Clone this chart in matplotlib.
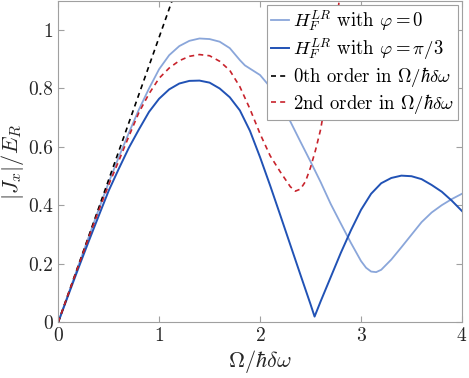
import matplotlib
matplotlib.use('Agg')
import matplotlib.pyplot as plt

plt.rcParams['font.family'] = 'serif'
plt.rcParams['font.serif'] = ['cmr10']
plt.rcParams['mathtext.fontset'] = 'cm'
plt.rcParams['axes.formatter.use_mathtext'] = True

# phi = 0 (light blue)
x_phi0 = [0.0, 0.1, 0.2, 0.3, 0.4, 0.5, 0.6, 0.7, 0.8, 0.9, 1.0, 1.1, 1.2, 1.3, 1.4,
          1.5, 1.6, 1.7, 1.8, 1.85, 1.9, 2.0, 2.1, 2.2, 2.3, 2.4, 2.5, 2.6, 2.7, 2.8,
          2.9, 3.0, 3.05, 3.1, 3.15, 3.2, 3.3, 3.4, 3.5, 3.6, 3.7, 3.8, 3.9, 4.0]
y_phi0 = [0.0, 0.097, 0.194, 0.29, 0.385, 0.478, 0.565, 0.648, 0.728, 0.80, 0.866, 0.914,
          0.945, 0.963, 0.971, 0.969, 0.96, 0.938, 0.897, 0.879, 0.868, 0.846, 0.805, 0.756,
          0.687, 0.618, 0.55, 0.48, 0.405, 0.338, 0.272, 0.21, 0.187, 0.174, 0.172, 0.18,
          0.215, 0.257, 0.30, 0.343, 0.376, 0.401, 0.422, 0.44]

# phi = pi/3 (dark blue)
x_phi3 = [0.0, 0.1, 0.2, 0.3, 0.4, 0.5, 0.6, 0.7, 0.8, 0.9, 1.0, 1.1, 1.2, 1.3, 1.4,
          1.5, 1.6, 1.7, 1.8, 1.9, 2.0, 2.1, 2.2, 2.3, 2.4, 2.5, 2.54, 2.6, 2.7, 2.8,
          2.9, 3.0, 3.1, 3.2, 3.3, 3.4, 3.5, 3.6, 3.7, 3.8, 3.9, 4.0]
y_phi3 = [0.0, 0.093, 0.185, 0.275, 0.363, 0.45, 0.525, 0.597, 0.66, 0.72, 0.765, 0.797,
          0.817, 0.826, 0.827, 0.82, 0.80, 0.77, 0.725, 0.655, 0.565, 0.468, 0.367, 0.265,
          0.163, 0.062, 0.02, 0.072, 0.155, 0.238, 0.315, 0.385, 0.44, 0.476, 0.494, 0.502,
          0.50, 0.49, 0.47, 0.447, 0.416, 0.381]

# 0th order
x_0th = [0.0, 1.2]
y_0th = [0.0, 1.17]

# 2nd order
x_2nd = [0.0, 0.1, 0.2, 0.3, 0.4, 0.5, 0.6, 0.7, 0.8, 0.9, 1.0, 1.1, 1.2, 1.3, 1.4,
         1.5, 1.6, 1.7, 1.8, 1.9, 2.0, 2.1, 2.2, 2.3, 2.35, 2.4, 2.45, 2.5, 2.55, 2.6,
         2.65, 2.7, 2.75, 2.8]
y_2nd = [0.0, 0.097, 0.193, 0.288, 0.381, 0.47, 0.552, 0.636, 0.718, 0.782, 0.835, 0.87,
         0.895, 0.91, 0.916, 0.912, 0.893, 0.862, 0.806, 0.73, 0.645, 0.57, 0.515,
         0.464, 0.449, 0.456, 0.482, 0.53, 0.59, 0.66, 0.76, 0.87, 1.0, 1.15]

fig = plt.figure(figsize=(4.69, 3.78), dpi=100)
ax = fig.add_axes([0.124, 0.147, 0.861, 0.851])

ax.plot(x_phi0, y_phi0, color='#8aa6da', lw=1.3, label=r'$H_F^{LR}$ with $\varphi=0$')
ax.plot(x_phi3, y_phi3, color='#2152b5', lw=1.4, label=r'$H_F^{LR}$ with $\varphi=\pi/3$')
ax.plot(x_0th, y_0th, color='black', lw=1.2, ls=(0, (3, 2.5)), label=r'0th order in $\Omega/\hbar\delta\omega$')
ax.plot(x_2nd, y_2nd, color='#c8232c', lw=1.2, ls=(0, (3, 2.5)), label=r'2nd order in $\Omega/\hbar\delta\omega$')

ax.set_xlim(0, 4)
ax.set_ylim(0, 1.1)
ax.set_xticks([0, 1, 2, 3, 4])
ax.set_yticks([0, 0.2, 0.4, 0.6, 0.8, 1])
ax.set_yticklabels(['0', '0.2', '0.4', '0.6', '0.8', '1'])
ax.tick_params(direction='in', top=True, right=True, length=4, color='#a0a0a0',
               labelsize=14, labelcolor='#262626')
for s in ax.spines.values():
    s.set_color('#a0a0a0')
    s.set_linewidth(0.8)

ax.set_xlabel(r'$\Omega/\hbar\delta\omega$', fontsize=16, color='#262626', labelpad=2)
ax.set_ylabel(r'$|J_x|/E_R$', fontsize=16, color='#262626', labelpad=2)

leg = ax.legend(loc='upper right', fontsize=13.5, handlelength=1.0, handletextpad=0.2,
                borderaxespad=0.2, borderpad=0.2, labelspacing=0.15, fancybox=False,
                framealpha=1, edgecolor='#a0a0a0')
leg.get_frame().set_linewidth(0.8)

fig.savefig('out.png', dpi=100)
